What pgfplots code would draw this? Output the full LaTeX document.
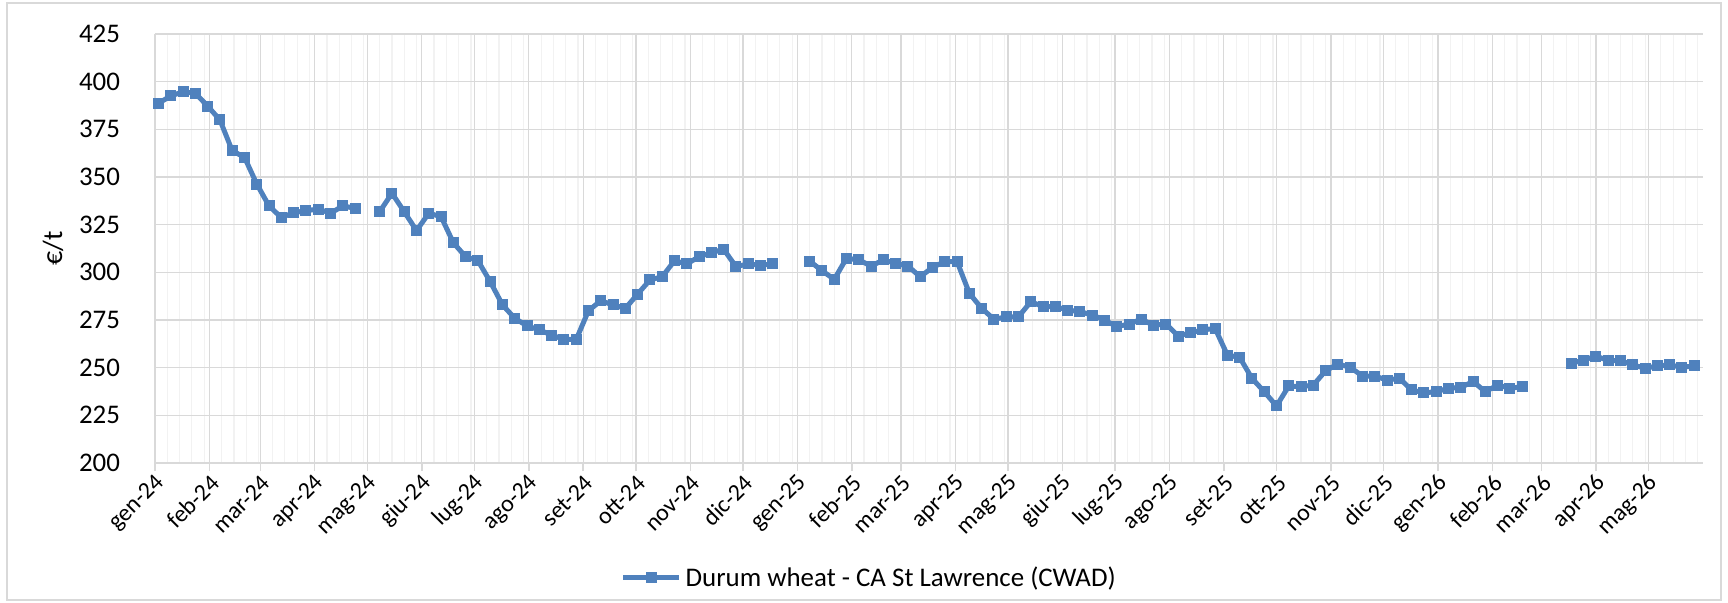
\documentclass[border=0pt]{standalone}
\usepackage{pgfplots}
\pgfplotsset{compat=1.18}
\usepackage{fontspec}
\setmainfont{Carlito}
\definecolor{ser}{RGB}{79,129,189}
\definecolor{gmaj}{RGB}{217,217,217}
\definecolor{gmin}{RGB}{242,242,242}
\begin{document}
\begin{tikzpicture}
\path[use as bounding box] (-77.5bp,-70bp) rectangle (786.5bp,231.5bp);
\draw[gmaj, line width=0.75bp] (-74bp,-68.5bp) rectangle (783bp,230bp);
\begin{axis}[
  scale only axis, width=774bp, height=214.5bp,
  xmin=0, xmax=882, ymin=200, ymax=425,
  ytick={200,225,...,425},
  xtick={0,31,60,91,121,152,182,213,244,274,305,335,366,397,425,456,486,517,547,578,609,639,670,700,731,762,790,821,851},
  xticklabels={gen-24,feb-24,mar-24,apr-24,mag-24,giu-24,lug-24,ago-24,set-24,ott-24,nov-24,dic-24,gen-25,feb-25,mar-25,apr-25,mag-25,giu-25,lug-25,ago-25,set-25,ott-25,nov-25,dic-25,gen-26,feb-26,mar-26,apr-26,mag-26},
  minor xtick={7,14,21,28,38,45,52,59,67,74,81,88,98,105,112,119,128,135,142,149,159,166,173,180,189,196,203,210,220,227,234,241,251,258,265,272,281,288,295,302,312,319,326,333,342,349,356,363,373,380,387,394,404,411,418,432,439,446,453,463,470,477,484,493,500,507,514,524,531,538,545,554,561,568,575,585,592,599,606,616,623,630,637,646,653,660,667,677,684,691,698,707,714,721,728,738,745,752,759,769,776,783,797,804,811,818,828,835,842,849,858,865,872,879},
  grid=both,
  major grid style={gmaj, line width=0.6bp},
  minor grid style={gmin, line width=0.6bp},
  axis x line*=bottom, axis y line*=left,
  axis line style={gmaj, line width=0.75bp},
  tick align=outside,
  major tick length=4bp, minor tick length=0pt,
  xtick style={gmaj, line width=0.75bp},
  ytick style={draw=none},
  /pgf/number format/assume math mode=true,
  tick label style={font=\fontsize{13.5}{16}\selectfont},
  y tick label style={xshift=-10bp},
  x tick label style={rotate=45, anchor=east, font=\fontsize{12}{14}\selectfont, yshift=-5bp, xshift=2.5bp},
  ylabel={€/t},
  ylabel style={at={(axis description cs:-0.0659,0.5)}, anchor=center, font=\fontsize{14}{16}\selectfont},
  unbounded coords=jump,
  legend style={at={(0.462,-0.268)}, anchor=center, draw=none, fill=none, font=\fontsize{13.5}{16}\selectfont},
  legend image code/.code={\draw[mark repeat=2,mark phase=2] plot coordinates {(0bp,0bp)(14bp,0bp)(28bp,0bp)};},
]
\addplot[color=ser, line width=2.5bp, line join=round, mark=square*, mark size=2.5bp, mark options={solid, fill=ser, line width=0bp}] coordinates {
(2,388.7)(9,392.5)(16,394.7)(23,393.9)(30,387.2)(37,379.9)(44,363.8)(51,360.3)(58,346.3)(65,334.8)
(72,328.7)(79,331.3)(86,332.3)(93,333.2)(100,331.0)(107,334.8)(114,333.6)(121,nan)(128,331.8)(135,341.5)
(142,331.8)(149,321.9)(156,331.0)(163,329.2)(170,315.5)(177,308.2)(184,306.1)(191,295.1)(198,282.9)(205,275.9)
(212,271.9)(219,269.8)(226,267.1)(233,264.8)(240,264.8)(247,279.9)(254,285.1)(261,282.9)(268,281.1)(275,288.6)
(282,296.0)(289,297.7)(296,306.1)(303,304.4)(310,308.2)(317,310.3)(324,312.1)(331,303.0)(338,304.4)(345,303.7)
(352,304.4)(359,nan)(366,nan)(373,305.9)(380,300.9)(387,296.3)(394,307.4)(401,306.5)(408,303.3)(415,306.5)
(422,304.7)(429,303.3)(436,297.7)(443,302.6)(450,305.6)(457,305.6)(464,289.0)(471,281.1)(478,275.4)(485,276.6)
(492,276.7)(499,284.6)(506,282.0)(513,282.0)(520,280.2)(527,279.4)(534,277.6)(541,275.0)(548,271.5)(555,272.9)
(562,275.4)(569,272.2)(576,272.9)(583,266.6)(590,268.3)(597,269.8)(604,270.6)(611,256.6)(618,255.4)(625,244.4)
(632,237.4)(639,229.9)(646,240.4)(653,240.0)(660,240.9)(667,248.4)(674,251.9)(681,250.2)(688,245.6)(695,245.6)
(702,243.5)(709,244.4)(716,238.3)(723,236.8)(730,237.4)(737,239.2)(744,239.7)(751,242.7)(758,237.4)(765,240.9)
(772,239.2)(779,240.0)(786,nan)(793,nan)(800,nan)(807,252.3)(814,254.0)(821,256.1)(828,253.7)(835,253.7)
(842,251.4)(849,249.7)(856,250.9)(863,251.4)(870,250.2)(877,250.9)
};
\addlegendentry{Durum wheat - CA St Lawrence (CWAD)}
\end{axis}
\end{tikzpicture}
\end{document}
